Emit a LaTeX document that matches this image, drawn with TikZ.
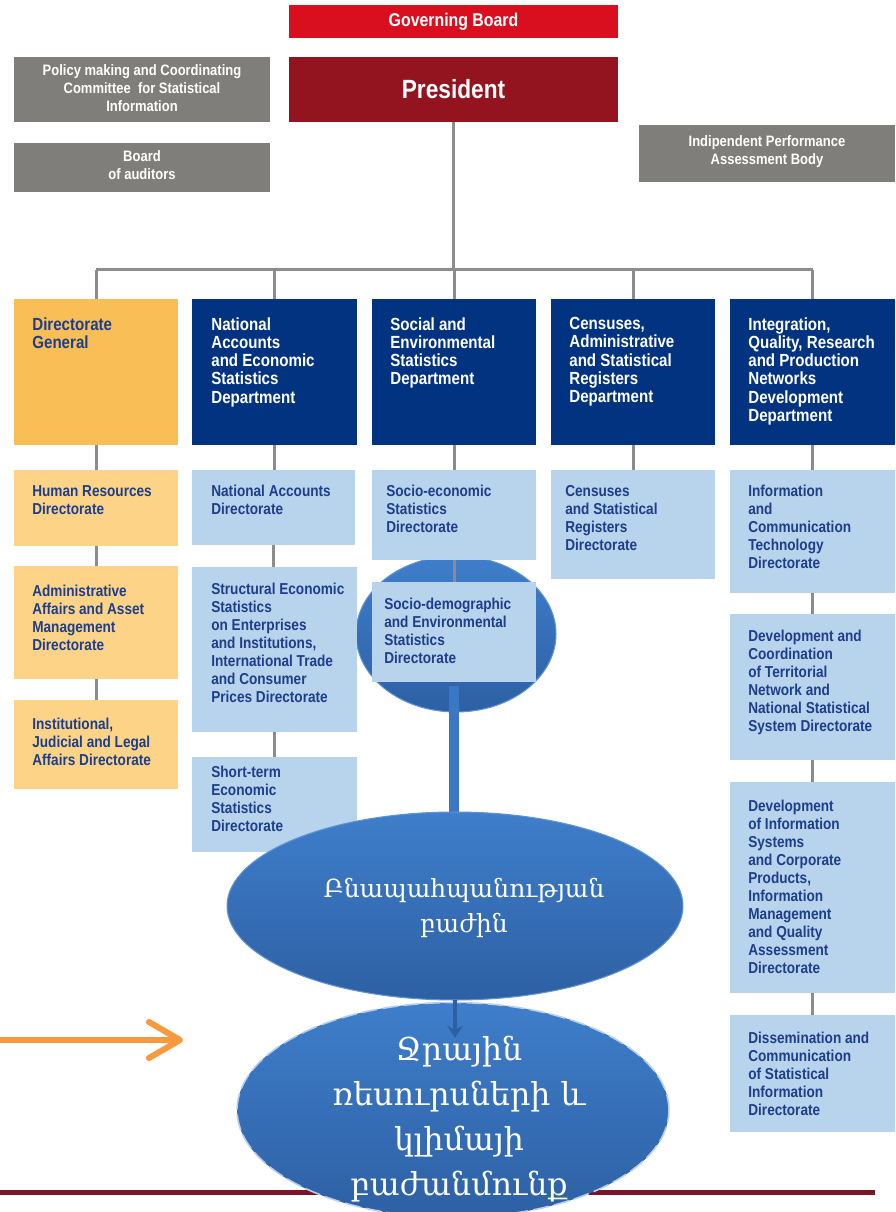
\documentclass[tikz,border=0pt]{standalone}
\usepackage{fontspec}
\setmainfont{Liberation Sans}
\newfontfamily\condf[FakeStretch=0.86]{Liberation Sans}
\newfontfamily\armfont{DejaVu Serif}
\usetikzlibrary{fit,calc,shapes.geometric,arrows.meta}
\definecolor{gbred}{HTML}{D90E1F}
\definecolor{presred}{HTML}{93141E}
\definecolor{mygrey}{HTML}{7F7E7A}
\definecolor{deptblue}{HTML}{013380}
\definecolor{lblue}{HTML}{B8D3EC}
\definecolor{orgA}{HTML}{F9BF56}
\definecolor{orgB}{HTML}{FDD487}
\definecolor{dtext}{HTML}{1D3E8A}
\definecolor{cgrey}{HTML}{8C8C8C}
\definecolor{ellT}{HTML}{3F7ECB}
\definecolor{ellB}{HTML}{2D60A3}
\definecolor{stemblue}{HTML}{3B78C4}
\definecolor{arrO}{HTML}{F7993E}
\definecolor{redline}{HTML}{7C1326}
\definecolor{ellEdge}{HTML}{5E93D4}
\newcommand\orgbox[7]{%
  \node[#2, inner sep=0pt, outer sep=0pt, fit={(#3)(#4)}] (#1) {};
  \node[#6, anchor=north west] (#1t) at ($(#1.north west)+(#5)$) {#7};}
\tikzset{
  conn/.style={draw=cgrey, line width=0.06cm},
  dept/.style={fill=deptblue},
  ltb/.style={fill=lblue},
  orA/.style={fill=orgA},
  orB/.style={fill=orgB},
  greybox/.style={fill=mygrey, inner sep=0pt, outer sep=0pt},
  greytxt/.style={text=white, inner sep=0pt, align=center,
    font=\condf\bfseries\fontsize{8.6}{10.2}\selectfont},
  toptxt/.style={text=white, inner sep=0pt, align=left,
    font=\condf\bfseries\fontsize{10}{10.4}\selectfont},
  toptxtd/.style={toptxt, text=dtext},
  subtxt/.style={text=dtext, inner sep=0pt, align=left,
    font=\condf\bfseries\fontsize{9}{10.2}\selectfont},
  ell/.style={ellipse, inner sep=0pt, outer sep=0pt, top color=ellT, bottom color=ellB,
    draw=ellEdge, line width=0.6pt},
  armtxt/.style={text=white, align=center, inner sep=0pt}
}
\begin{document}
\begin{tikzpicture}[x=0.02cm, y=-0.02cm]
\clip (0,0) rectangle (895,1212);
\fill[white] (0,0) rectangle (895,1212);
% bottom red rule
\coordinate (rl1) at (0,1192);
\coordinate (rl2) at (875,1192);
\draw[redline, line width=0.1cm] (rl1) -- (rl2);
% top boxes
\node[greybox, fill=gbred, fit={(289,5)(618,38)}] (gov) {};
\node[greytxt, font=\condf\bfseries\fontsize{10.5}{12}\selectfont] (govt) at (gov.center) {Governing Board};
\node[greybox, fill=presred, fit={(289,57)(618,122)}] (pres) {};
\node[greytxt, font=\condf\bfseries\fontsize{15}{18}\selectfont] (prest) at (pres.center) {President};
\node[greybox, fit={(14,57)(270,122)}] (pol) {};
\node[greytxt] (polt) at ([yshift=0.02cm]pol.center) {Policy making and Coordinating\\Committee\ \ for Statistical\\Information};
\node[greybox, fit={(14,143)(270,192)}] (aud) {};
\node[greytxt] (audt) at ([yshift=0.04cm]aud.center) {Board\\of auditors};
\node[greybox, fit={(639,125)(895,182)}] (ind) {};
\node[greytxt] (indt) at ([yshift=0.04cm]ind.center) {Indipendent Performance\\Assessment Body};
% small ellipse behind socio-demographic box
\node[ell, minimum width=4cm, minimum height=3.12cm] (es) at (456,634) {};
% departments
\orgbox{d1}{orA}{14,299}{178,445}{18,18}{toptxtd}{Directorate\\General}
\orgbox{d2}{dept}{192,299}{357,445}{19,18}{toptxt}{National\\Accounts\\and Economic\\Statistics\\Department}
\orgbox{d3}{dept}{372,299}{536,445}{18,18}{toptxt}{Social and\\Environmental\\Statistics\\Department}
\orgbox{d4}{dept}{551,299}{715,445}{18,18}{toptxt}{Censuses,\\Administrative\\and Statistical\\Registers\\Department}
\orgbox{d5}{dept}{730,299}{895,445}{18,18}{toptxt}{Integration,\\Quality, Research\\and Production\\Networks\\Development\\Department}
% column 1
\orgbox{a1}{orB}{14,470}{178,546}{18,15}{subtxt}{Human Resources\\Directorate}
\orgbox{a2}{orB}{14,566}{178,679}{18,19}{subtxt}{Administrative\\Affairs and Asset\\Management\\Directorate}
\orgbox{a3}{orB}{14,700}{178,789}{18,18}{subtxt}{Institutional,\\Judicial and Legal\\Affairs Directorate}
% column 2
\orgbox{b1}{ltb}{192,470}{355,545}{19,15}{subtxt}{National Accounts\\Directorate}
\orgbox{b2}{ltb}{192,567}{357,732}{19,16}{subtxt}{Structural Economic\\Statistics\\on Enterprises\\and Institutions,\\International Trade\\and Consumer\\Prices Directorate}
\orgbox{b3}{ltb}{192,757}{357,852}{19,9}{subtxt}{Short-term\\Economic\\Statistics\\Directorate}
% column 3
\orgbox{c1}{ltb}{372,470}{536,560}{14,15}{subtxt}{Socio-economic\\Statistics\\Directorate}
\orgbox{c2}{ltb}{372,582}{536,682}{12,16}{subtxt}{Socio-demographic\\and Environmental\\Statistics\\Directorate}
% column 4
\orgbox{k1}{ltb}{551,470}{715,579}{14,15}{subtxt}{Censuses\\and Statistical\\Registers\\Directorate}
% column 5
\orgbox{f1}{ltb}{730,470}{895,593}{18,15}{subtxt}{Information\\and\\Communication\\Technology\\Directorate}
\orgbox{f2}{ltb}{730,614}{895,760}{18,16}{subtxt}{Development and\\Coordination\\of Territorial\\Network and\\National Statistical\\System Directorate}
\orgbox{f3}{ltb}{730,782}{895,993}{18,18}{subtxt}{Development\\of Information\\Systems\\and Corporate\\Products,\\Information\\Management\\and Quality\\Assessment\\Directorate}
\orgbox{f4}{ltb}{730,1015}{895,1132}{18,17}{subtxt}{Dissemination and\\Communication\\of Statistical\\Information\\Directorate}
% connectors
\coordinate (bus) at (452,270);
\draw[conn] (pres.south) -- (pres.south |- bus);
\draw[conn] (d1.north |- bus) -- (d5.north |- bus);
\foreach \d in {d1,d2,d3,d4,d5} {\draw[conn] (\d.north) -- (\d.north |- bus);}
\draw[conn] (d1.south) -- (d1.south |- a1.north);
\draw[conn] (a1.south) -- (a1.south |- a2.north);
\draw[conn] (a2.south) -- (a2.south |- a3.north);
\draw[conn] (d2.south) -- (d2.south |- b1.north);
\draw[conn] (b1.south) -- (b1.south |- b2.north);
\draw[conn] (b2.south) -- (b2.south |- b3.north);
\draw[conn] (d3.south) -- (d3.south |- c1.north);
\draw[conn] (c1.south) -- (c1.south |- c2.north);
\draw[conn] (d4.south) -- (d4.south |- k1.north);
\draw[conn] (d5.south) -- (d5.south |- f1.north);
\draw[conn] (f1.south) -- (f1.south |- f2.north);
\draw[conn] (f2.south) -- (f2.south |- f3.north);
\draw[conn] (f3.south) -- (f3.south |- f4.north);
% blue stem
\coordinate (e1c) at (455,906);
\draw[stemblue, line width=0.2cm] ([yshift=-0.08cm]c2.south) -- (c2.south |- e1c);
% big ellipses
\node[ell, minimum width=9.12cm, minimum height=3.76cm] (e1) at (e1c) {};
\node[armtxt, font=\armfont\fontsize{14.2}{20}\selectfont] (e1t) at (464,908) {Բնապահպանության\\բաժին};
\coordinate (e2tip) at (455,1038);
\node[ell, minimum width=8.64cm, minimum height=4.3cm, draw=white!55!ellEdge, dash pattern=on 9pt off 3pt, line width=0.9pt] (e2) at (453,1110) {};
\draw[ellB, line width=2.6pt, -{Stealth[length=7pt,width=9pt]}] (e1.south) -- (e2tip);
\node[armtxt, font=\armfont\fontsize{18}{25.5}\selectfont] (e2t) at (459,1119) {Ջրային\\ռեսուրսների և\\կլիմայի\\բաժանմունք};
% orange arrow
\coordinate (oa1) at (0,1040);
\coordinate (oa2) at (183,1040);
\draw[arrO, line width=0.12cm, -{Straight Barb[length=0.62cm,width=0.72cm,round]}] (oa1) -- (oa2);
\end{tikzpicture}
\end{document}
